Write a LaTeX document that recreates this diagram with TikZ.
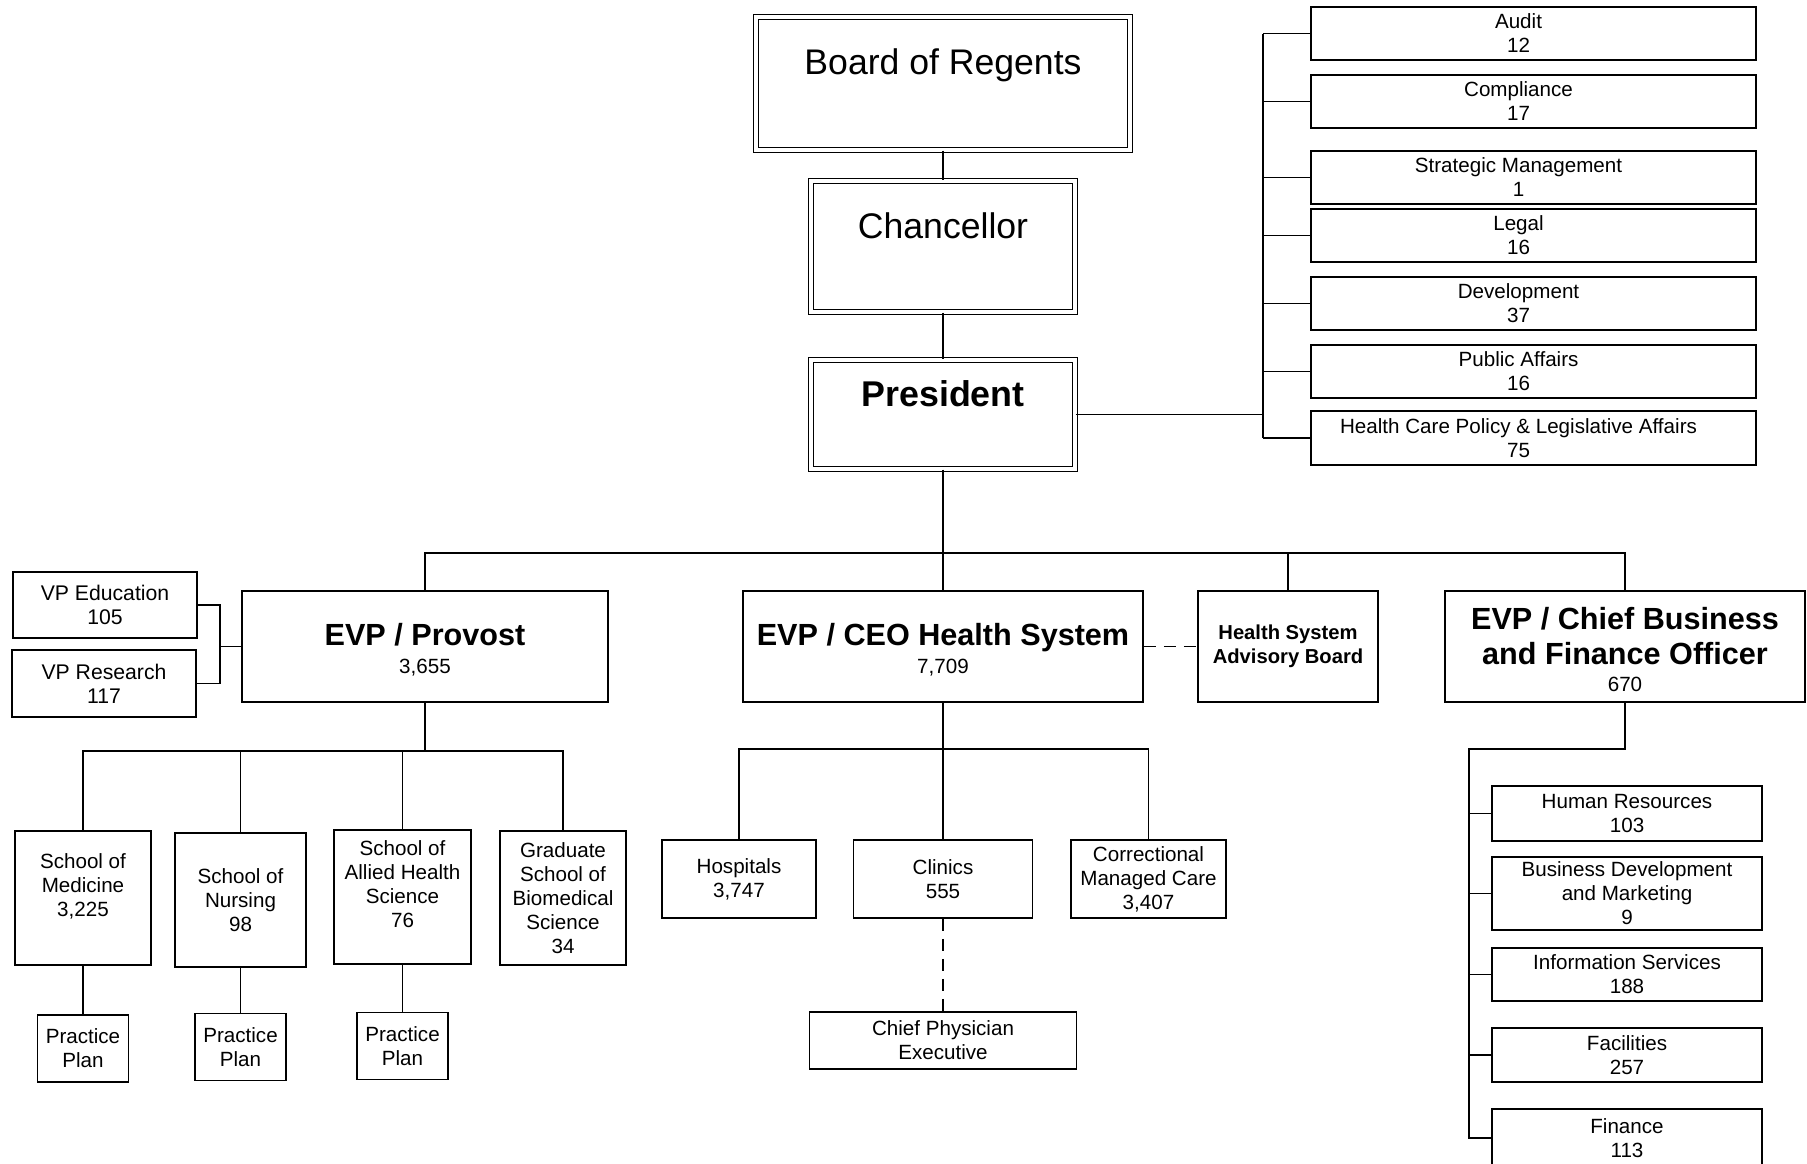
\documentclass[tikz,border=0pt]{standalone}
\usepackage{fontspec}
\setmainfont{Liberation Sans}
\usetikzlibrary{calc}
\tikzset{
	unit/.style={draw, line width=0.9pt, align=center, inner sep=0pt, font=\fontsize{10.3}{12}\selectfont},
	head/.style={unit, double, double distance=1.6pt, line width=0.6pt, font=\fontsize{17.8}{20}\selectfont},
	link/.style={line width=0.6pt},
	dashlink/.style={line width=0.6pt, dash pattern=on 6pt off 4pt}
}
\newcommand{\ttl}{\fontsize{15.3}{18}\selectfont\bfseries}
\newcommand{\staff}[2]{#1\hspace*{15pt}\\#2\hspace*{15pt}}

\begin{document}
\begin{tikzpicture}[x=0.5pt, y=-0.5pt]
		%%%%% START %%%%%
		\useasboundingbox (0,0) rectangle (1807,1163);
		
		\node[head, minimum width=187pt, minimum height=66.5pt, text depth=22pt] (board) at (943,83.5) {Board of Regents};
		\node[head, minimum width=132pt, minimum height=65.5pt, text depth=21pt] (chancellor) at (943,246.5) {Chancellor};
		\node[head, minimum width=132pt, minimum height=54.5pt, text depth=21pt, font=\fontsize{17.9}{21}\selectfont\bfseries] (president) at (943,414.5) {President};
		
		% staff offices
		\node[unit, minimum width=222.5pt, minimum height=26.5pt] (audit) at (1533.5,33.5) {\staff{Audit}{12}};
		\node[unit, minimum width=222.5pt, minimum height=26.5pt] (compliance) at (1533.5,101.5) {\staff{Compliance}{17}};
		\node[unit, minimum width=222.5pt, minimum height=26.5pt] (strategic) at (1533.5,177.5) {\staff{Strategic Management}{1}};
		\node[unit, minimum width=222.5pt, minimum height=26.5pt] (legal) at (1533.5,235.5) {\staff{Legal}{16}};
		\node[unit, minimum width=222.5pt, minimum height=26.5pt] (development) at (1533.5,303.5) {\staff{Development}{37}};
		\node[unit, minimum width=222.5pt, minimum height=26.5pt] (publicaffairs) at (1533.5,371.5) {\staff{Public Affairs}{16}};
		\node[unit, minimum width=222.5pt, minimum height=27pt] (healthpolicy) at (1533.5,438) {\staff{Health Care Policy \& Legislative Affairs}{75}};
		
		% executive vice presidents
		\node[unit, minimum width=183pt, minimum height=55.5pt, text height=28pt] (provost) at (425,646.5) {{\ttl EVP / Provost}\\[1.8pt]3,655};
		\node[unit, minimum width=200pt, minimum height=55.5pt, text height=28pt] (ceo) at (943,646.5) {{\ttl EVP / CEO Health System}\\[1.8pt]7,709};
		\node[unit, minimum width=90pt, minimum height=55.5pt, font=\fontsize{10.1}{12}\selectfont\bfseries] (hsab) at (1288,646.5) {Health System\\Advisory Board};
		\node[unit, minimum width=180pt, minimum height=55.5pt, text height=45.4pt] (cbfo) at (1625,646.5) {{\ttl EVP / Chief Business}\\[5.5pt]{\ttl and Finance Officer}\\[1.85pt]670};
		
		\node[unit, minimum width=92pt, minimum height=33pt, font=\fontsize{10.6}{12}\selectfont] (vpedu) at (105,605) {VP Education\\105};
		\node[unit, minimum width=92pt, minimum height=33.5pt, font=\fontsize{10.6}{12}\selectfont] (vpres) at (104,683.5) {VP Research\\117};
		
		% schools
		\node[unit, minimum width=68pt, minimum height=67pt, text depth=13pt] (medicine) at (83,898) {School of\\Medicine\\3,225};
		\node[unit, minimum width=65.5pt, minimum height=67pt] (nursing) at (240.5,900) {School of\\Nursing\\98};
		\node[unit, minimum width=68.5pt, minimum height=67pt, text depth=13pt] (allied) at (402.5,897) {School of\\Allied Health\\Science\\76};
		\node[unit, minimum width=63pt, minimum height=67pt] (graduate) at (563,898) {Graduate\\School of\\Biomedical\\Science\\34};
		
		\node[unit, minimum width=45.5pt, minimum height=33.5pt] (planmed) at (83,1048.5) {Practice\\Plan};
		\node[unit, minimum width=45.5pt, minimum height=33.5pt] (plannur) at (240.5,1047) {Practice\\Plan};
		\node[unit, minimum width=45.5pt, minimum height=33.5pt] (planall) at (402.5,1046) {Practice\\Plan};
		
		% health system
		\node[unit, minimum width=77pt, minimum height=39pt] (hospitals) at (739,879) {Hospitals\\3,747};
		\node[unit, minimum width=89.5pt, minimum height=39pt] (clinics) at (943,879) {Clinics\\555};
		\node[unit, minimum width=77.5pt, minimum height=39pt] (correctional) at (1148.5,879) {Correctional\\Managed Care\\3,407};
		\node[unit, minimum width=133.5pt, minimum height=28.5pt] (physician) at (943,1040.5) {Chief Physician\\Executive};
		
		% business and finance
		\node[unit, minimum width=135pt, minimum height=27.5pt] (hr) at (1627,813.5) {Human Resources\\103};
		\node[unit, minimum width=135pt, minimum height=36.5pt] (bizdev) at (1627,893.5) {Business Development\\and Marketing\\9};
		\node[unit, minimum width=135pt, minimum height=26.5pt] (infoserv) at (1627,974.5) {Information Services\\188};
		\node[unit, minimum width=135pt, minimum height=27pt] (facilities) at (1627,1055) {Facilities\\257};
		\node[unit, minimum width=135pt, minimum height=29pt] (finance) at (1627,1138) {Finance\\113};
		
		% lines
		\draw[link] (board.south) -- (chancellor.north);
		\draw[link] (chancellor.south) -- (president.north);
		
		\coordinate (staffbar) at (1263,414.5);
		\draw[link] (president.east) -- (staffbar);
		\draw[link] (audit.west -| staffbar) -- (healthpolicy.west -| staffbar);
		\foreach \n in {audit,compliance,strategic,legal,development,publicaffairs,healthpolicy}
			\draw[link] (\n.west) -- (\n.west -| staffbar);
		
		\coordinate (topbus) at (943,553);
		\draw[link] (president.south) -- (topbus);
		\draw[link] (provost.north) |- (topbus) -| (cbfo.north);
		\draw[link] (ceo.north) -- (ceo.north |- topbus);
		\draw[link] (hsab.north) -- (hsab.north |- topbus);
		\draw[dashlink] (ceo.east) -- (hsab.west);
		
		\coordinate (vpbar) at (220,646.5);
		\draw[link] (vpedu.east) -| (vpbar) |- (vpres.east);
		\draw[link] (vpbar) -- (provost.west);
		
		\coordinate (schoolbus) at (425,751);
		\draw[link] (provost.south) -- (schoolbus);
		\draw[link] (medicine.north) |- (schoolbus) -| (graduate.north);
		\draw[link] (nursing.north) -- (nursing.north |- schoolbus);
		\draw[link] (allied.north) -- (allied.north |- schoolbus);
		\draw[link] (medicine.south) -- (planmed.north);
		\draw[link] (nursing.south) -- (plannur.north);
		\draw[link] (allied.south) -- (planall.north);
		
		\coordinate (carebus) at (943,749);
		\draw[link] (ceo.south) -- (carebus);
		\draw[link] (hospitals.north) |- (carebus) -| (correctional.north);
		\draw[link] (clinics.north) -- (carebus);
		\draw[dashlink] (clinics.south) -- (physician.north);
		
		\coordinate (financebar) at (1469,749);
		\draw[link] (cbfo.south) |- (financebar) |- (finance.west);
		\foreach \n in {hr,bizdev,infoserv,facilities}
			\draw[link] (\n.west) -- (\n.west -| financebar);
		%%%%% END %%%%%
	\end{tikzpicture}
\end{document}
